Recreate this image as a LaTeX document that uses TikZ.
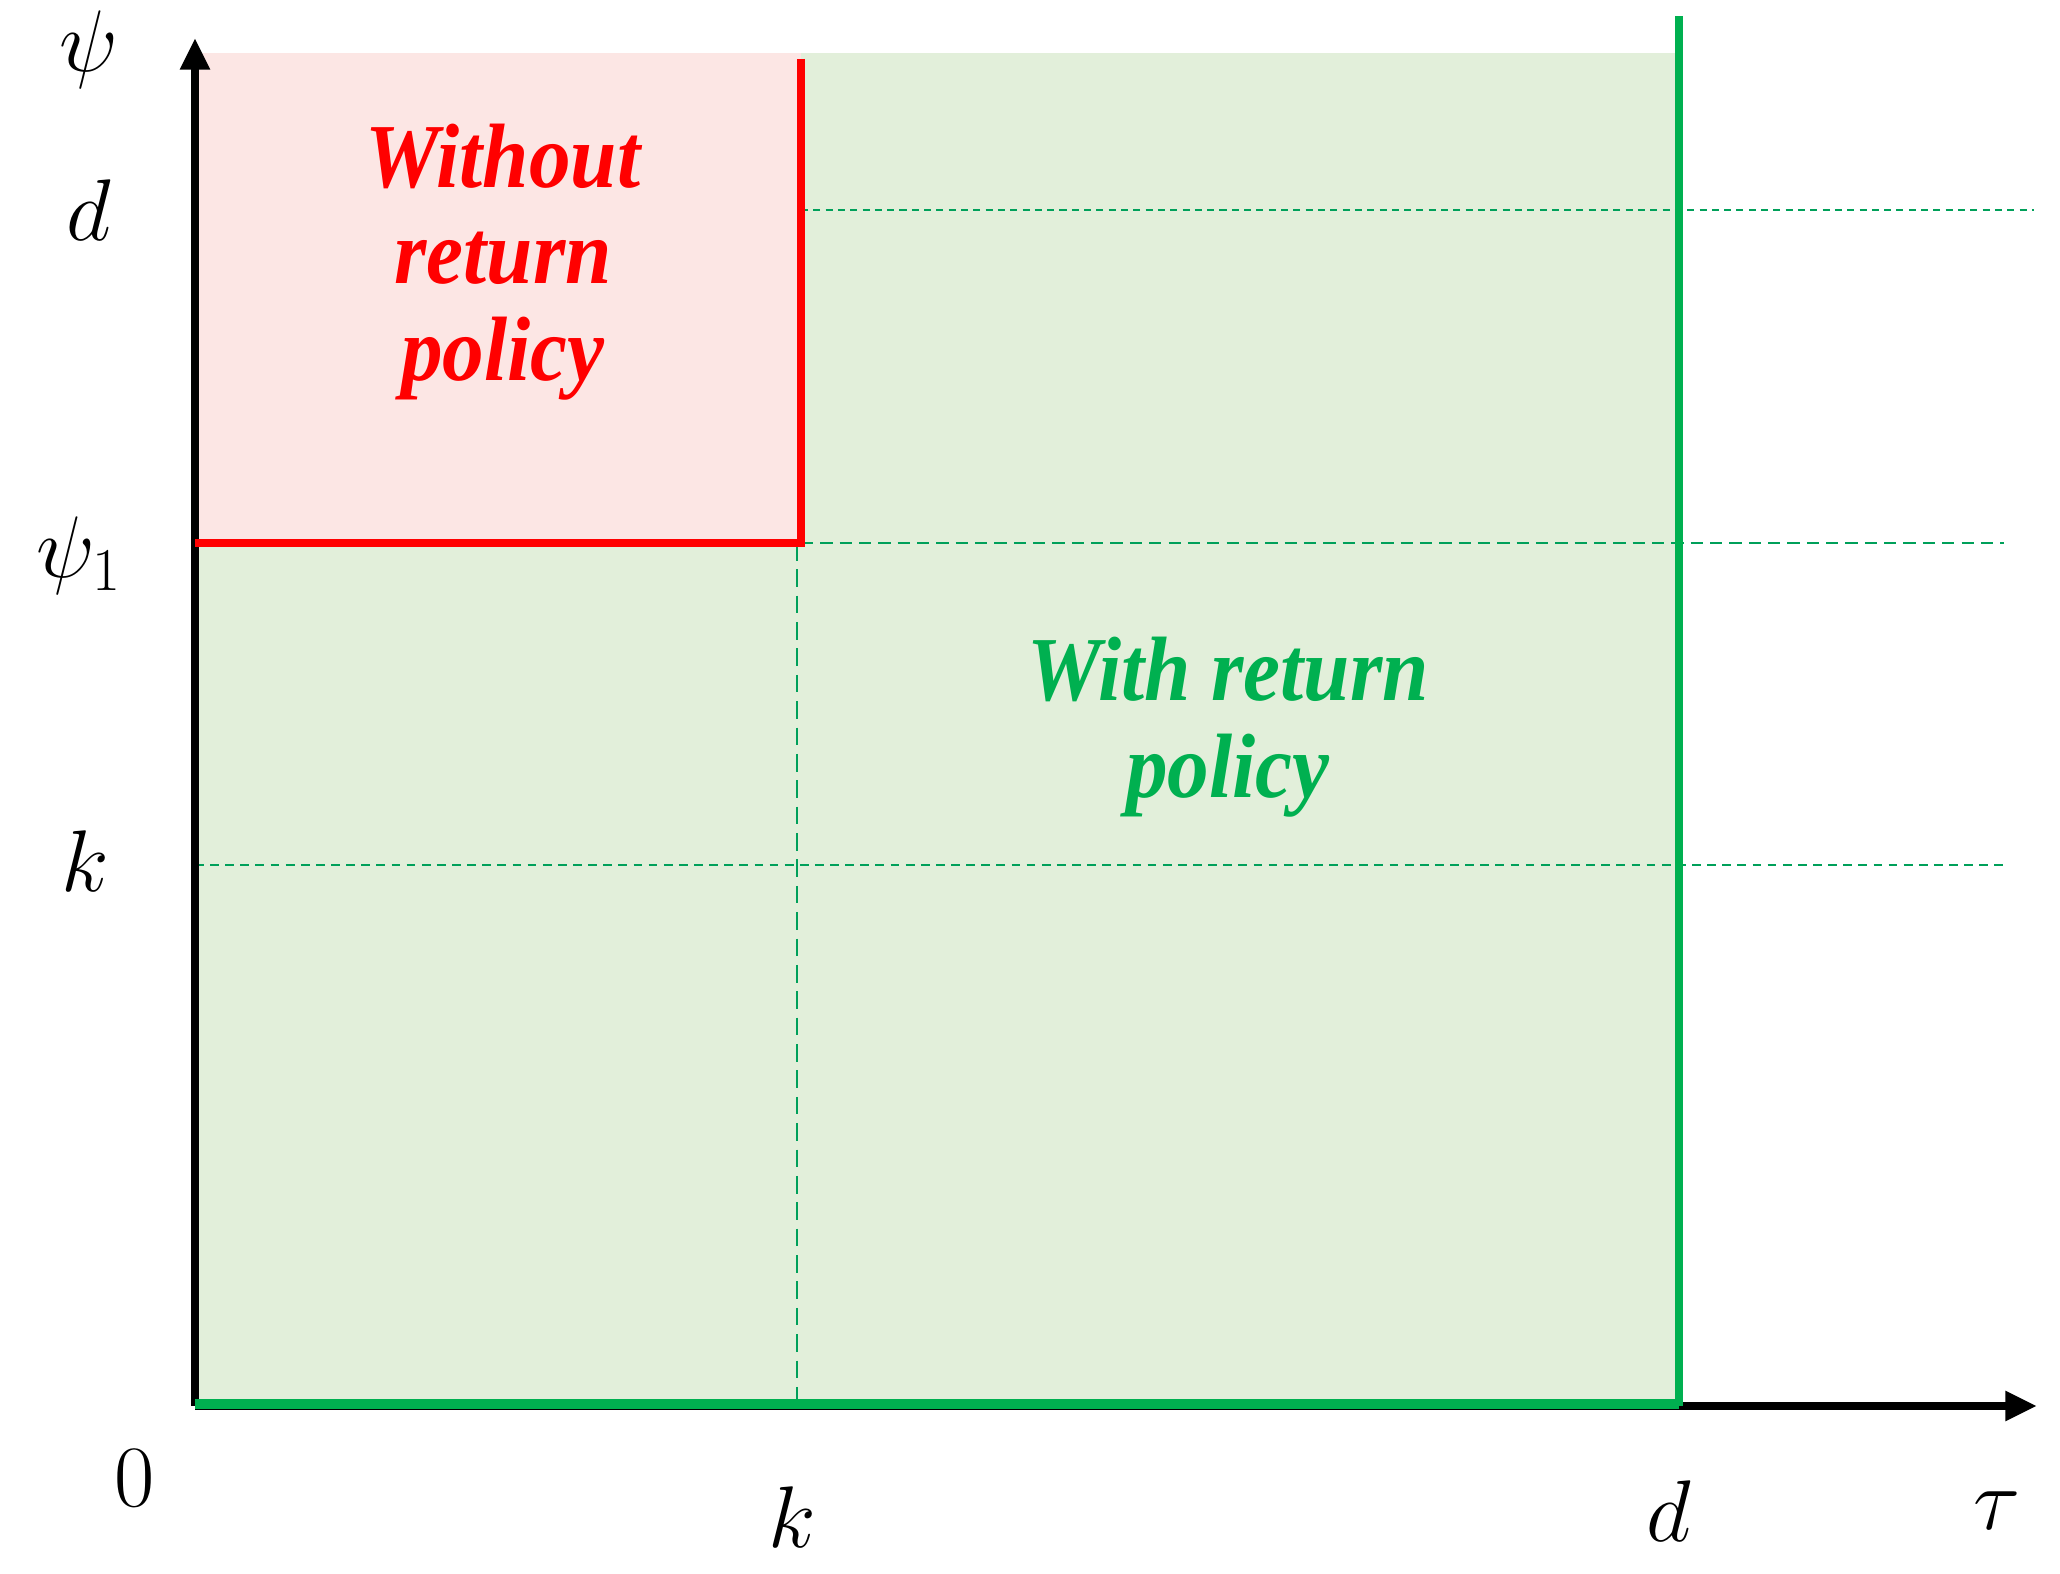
\documentclass[tikz,border=0pt]{standalone}
\usepackage{fontspec}
\setmainfont{Liberation Serif}
\newfontfamily\regionfont[FakeStretch=0.91]{Liberation Serif}
\usetikzlibrary{arrows.meta}
\definecolor{gfill}{RGB}{226,239,218}
\definecolor{rfill}{RGB}{252,230,228}
\definecolor{gline}{RGB}{0,176,80}
\definecolor{gdash}{RGB}{0,160,90}
\tikzset{
  axis/.style={line width=2.5pt,black,-{Triangle[width=8pt,length=9pt]}},
  redline/.style={line width=2.1pt,red},
  greenline/.style={line width=2.2pt,gline},
  guide/.style={line width=0.5pt,gdash,dash pattern=on 3pt off 2pt},
  lab/.style={inner sep=0pt,font=\fontsize{25}{25}\selectfont},
  region/.style={inner sep=0pt,align=center,font=\fontsize{26}{27.5}\regionfont\bfseries\itshape}
}
\begin{document}
\begin{tikzpicture}[x=0.01cm,y=-0.01cm]
\useasboundingbox (0,0) rectangle (2060,1574);
% fills
\fill[gfill] (195,53) rectangle (1679,1406);
\fill[rfill] (195,53) rectangle (801,543);
% coordinates
\coordinate (O) at (195,1406);
\coordinate (Ytop) at (195,38);
\coordinate (Xend) at (2037,1406);
\coordinate (Dx) at (1679,1406);
\coordinate (Dtop) at (1679,16);
\coordinate (Rtop) at (801,59);
\coordinate (Rcorner) at (801,543);
\coordinate (Rleft) at (195,543);
% guides
\draw[guide,dash pattern=on 2pt off 1.5pt] (801,210) -- (2034,210);
\draw[guide,dash pattern=on 3.5pt off 2pt] (801,543) -- (2004,543);
\draw[guide,dash pattern=on 2.5pt off 1.8pt] (195,865) -- (2004,865);
\draw[guide,dash pattern=on 5pt off 2.5pt] (797,543) -- (797,1406);
% axes
\draw[axis] (O) -- (Ytop);
\draw[axis] (O) -- (Xend);
\draw[greenline,line width=2.8pt] ([yshift=0.6pt]O) -- ([yshift=0.6pt]Dx);
\draw[greenline] (Dx) -- (Dtop);
% red boundary
\draw[redline] (Rtop) -- (Rcorner) -- (Rleft);
% labels
\node[lab] (psi) at (89,50) {$\psi$};
\node[lab] (dl) at (89,210) {$d$};
\node[lab] (psi1) at (79,556) {$\psi_1$};
\node[lab] (kl) at (85,861) {$k$};
\node[lab] (zero) at (135,1478) {$0$};
\node[lab] (kb) at (792,1517) {$k$};
\node[lab] (db) at (1669,1511) {$d$};
\node[lab] (tau) at (1997,1511) {$\tau$};
% region texts
\node[region,text=red] (wo) at (503,262) {Without\\return\\policy};
\node[region,text=gline] (wi) at (1228,727) {With return\\policy};
\end{tikzpicture}
\end{document}
